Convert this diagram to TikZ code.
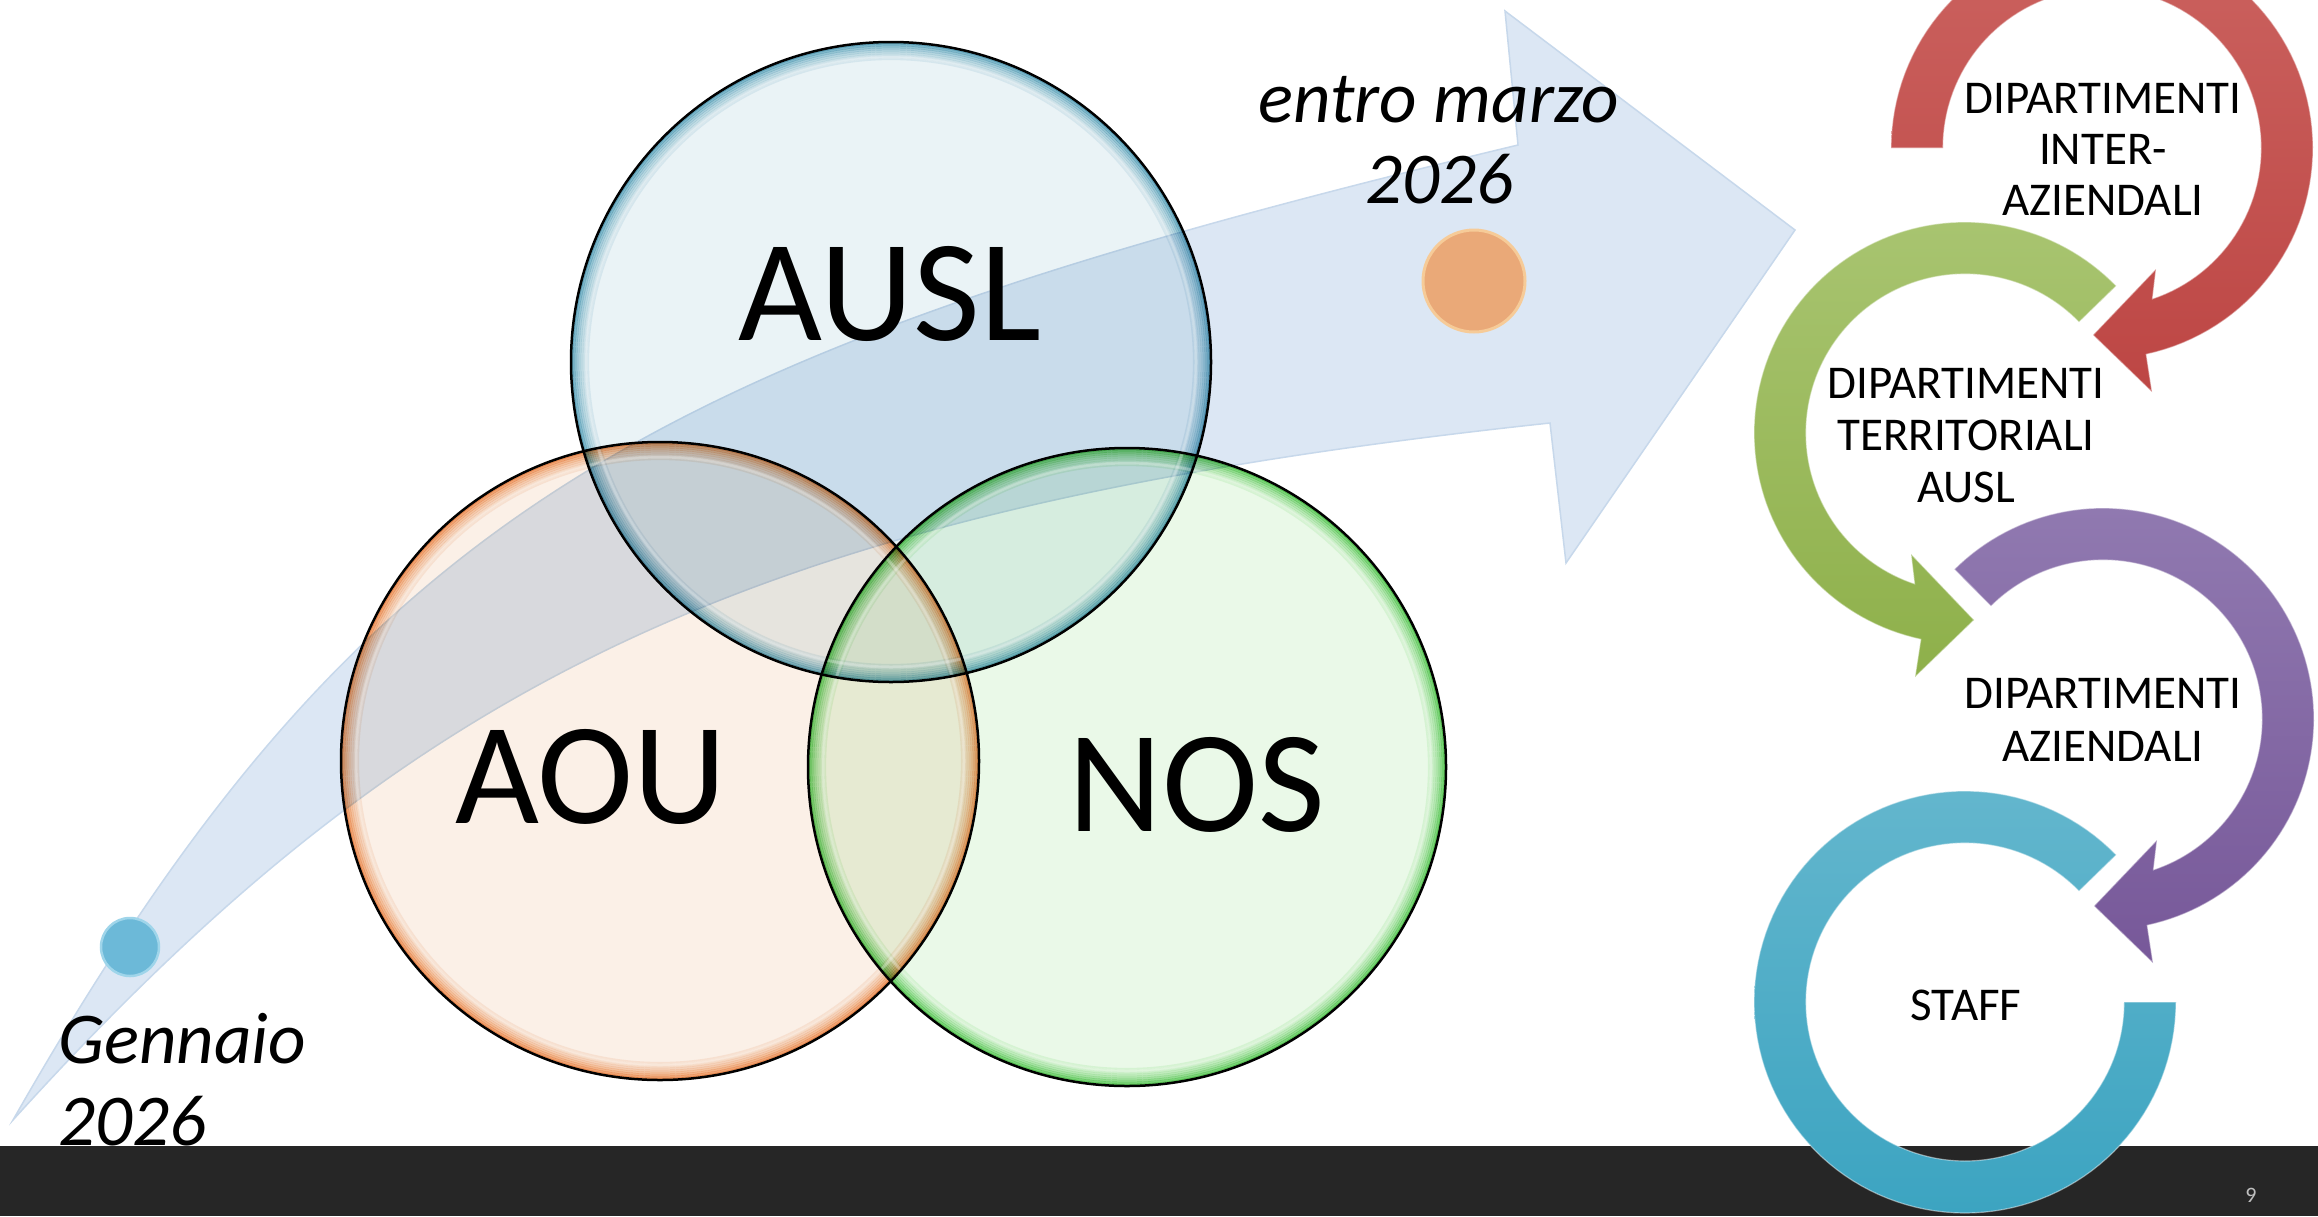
\documentclass[tikz,border=0pt]{standalone}
\usepackage{fontspec}
\setmainfont{Carlito}
\definecolor{barcol}{HTML}{262626}
\definecolor{bandfill}{HTML}{DCE7F4}
\definecolor{bandline}{HTML}{C7D8EB}
\definecolor{redT}{HTML}{CB625F}\definecolor{redB}{HTML}{BD4644}
\definecolor{grnT}{HTML}{A8C470}\definecolor{grnB}{HTML}{8EB04A}
\definecolor{purT}{HTML}{9079B0}\definecolor{purB}{HTML}{775899}
\definecolor{cyaT}{HTML}{63B6CD}\definecolor{cyaB}{HTML}{3CA4C1}
\definecolor{dotblue}{HTML}{6CB9D8}\definecolor{dotblueR}{HTML}{9FD5EA}
\definecolor{dotor}{HTML}{EAA978}\definecolor{dotorR}{HTML}{F6CB98}
\definecolor{pgnum}{HTML}{BFBFBF}
\definecolor{cenA}{HTML}{EAF3F6}\definecolor{rimA}{HTML}{6FB3C8}
\definecolor{cenO}{HTML}{FBF0E7}\definecolor{rimO}{HTML}{F19E62}
\definecolor{cenN}{HTML}{EAF9E8}\definecolor{rimN}{HTML}{6CD168}
\tikzset{
  venntxt/.style={anchor=base, inner sep=0pt, font=\fontsize{145}{145}\selectfont},
  datetxt/.style={inner sep=0pt, font=\fontsize{73}{82}\selectfont\itshape},
  ringtxt/.style={anchor=base, inner sep=0pt, font=\fontsize{47}{51}\selectfont},
  ringedge/.style={draw=white, draw opacity=0.45, line width=1.2pt},
  vennline/.style={draw=black, line width=2.5pt},
  vennglow/.style={white, opacity=0.3, line width=3pt}
}
\newcommand{\ringarrow}[6]{% cx, cy, xscale, start angle, top colour, bottom colour
  \begin{scope}[shift={(#1,#2)}, xscale=#3]
    \shade[top color=#5, bottom color=#6, ringedge]
      plot[domain=#4:437.9, samples=100] ({211*cos(\x)},{211*sin(\x)})
      -- (50,244) -- (-9,187) -- (54,121)
      -- plot[domain=431.5:#4, samples=100] ({159*cos(\x)},{159*sin(\x)}) -- cycle;
  \end{scope}}
\newcommand{\vennfill}[5]{% cx, cy, radius, centre colour, rim colour
  \fill[#4] (#1,#2) circle[radius=#3pt];
  \foreach \k in {0,...,8}{%
    \pgfmathtruncatemacro\pc{100*(1-\k/9)^2}%
    \pgfmathsetmacro\rr{#3-1-\k*2}%
    \draw[#5!\pc!#4, line width=2.2pt] (#1,#2) circle[radius=\rr pt];}}
\begin{document}
\begin{tikzpicture}[x=1pt,y=-1pt]
\useasboundingbox (0,0) rectangle (2318,1216);
\fill[white] (0,0) rectangle (2318,1216);
\fill[barcol] (0,1146) rectangle (2318,1216);

% big curved arrow
\coordinate (tail) at (13,1120);
\coordinate (shtop) at (1518,145);
\coordinate (hdtop) at (1505,11);
\coordinate (hdtip) at (1795,230);
\coordinate (hdbot) at (1566,563);
\coordinate (shbot) at (1550,423);
\fill[bandfill, draw=bandline, line width=1.5pt]
  (tail) .. controls (360,512) and (643,355) .. (shtop)
  -- (hdtop) -- (hdtip) -- (hdbot) -- (shbot)
  .. controls (755,508) and (415,676) .. (tail) -- cycle;

% Venn circles
\begin{scope}[blend mode=multiply]
  \vennfill{891}{362}{320}{cenA}{rimA}
  \vennfill{660}{761}{319}{cenO}{rimO}
  \vennfill{1127}{767}{319}{cenN}{rimN}
\end{scope}
\draw[vennglow] (891,362) circle[radius=305pt];
\draw[vennglow] (660,761) circle[radius=304pt];
\draw[vennglow] (1127,767) circle[radius=304pt];
\draw[vennline] (891,362) circle[radius=320pt];
\draw[vennline] (660,761) circle[radius=319pt];
\draw[vennline] (1127,767) circle[radius=319pt];

% milestone dots
\fill[dotblue, draw=dotblueR, line width=2.5pt] (130,947) circle[radius=29pt];
\fill[dotor, draw=dotorR, line width=3pt] (1474,281) circle[radius=51pt];

% Venn labels
\node[venntxt] (ausl) at (890,340) {AUSL};
\node[venntxt] (aou) at (591,823) {AOU};
\node[venntxt] (nos) at (1197,831) {NOS};

% dates
\node[datetxt, anchor=base west] (gen1) at (58,1063) {Gennaio};
\node[datetxt, anchor=base west] (gen2) at (58,1145) {2026};
\node[datetxt, anchor=base] (mar1) at (1439,122) {entro marzo};
\node[datetxt, anchor=base] (mar2) at (1439,203) {2026};

% cycle of circular arrows
\ringarrow{2102}{148}{1}{180}{redT}{redB}
\ringarrow{1965}{433}{-1}{224.2}{grnT}{grnB}
\ringarrow{2103}{719}{1}{225.2}{purT}{purB}
\begin{scope}[shift={(1965,1002)}, xscale=-1]
  \shade[top color=cyaT, bottom color=cyaB, ringedge]
    plot[domain=224.2:540, samples=120] ({211*cos(\x)},{211*sin(\x)})
    -- plot[domain=540:224.2, samples=120] ({159*cos(\x)},{159*sin(\x)}) -- cycle;
\end{scope}

\node[ringtxt] (r1a) at (2103,113) {DIPARTIMENTI};
\node[ringtxt] (r1b) at (2103,164) {INTER-};
\node[ringtxt] (r1c) at (2103,215) {AZIENDALI};
\node[ringtxt] (r2a) at (1966,398) {DIPARTIMENTI};
\node[ringtxt] (r2b) at (1966,450) {TERRITORIALI};
\node[ringtxt] (r2c) at (1966,502) {AUSL};
\node[ringtxt] (r3a) at (2103,708) {DIPARTIMENTI};
\node[ringtxt] (r3b) at (2103,761) {AZIENDALI};
\node[ringtxt] (r4a) at (1966,1020) {STAFF};

\node[font=\fontsize{22}{22}\selectfont, text=pgnum, inner sep=0pt] (pg) at (2251,1195) {9};
\end{tikzpicture}
\end{document}
